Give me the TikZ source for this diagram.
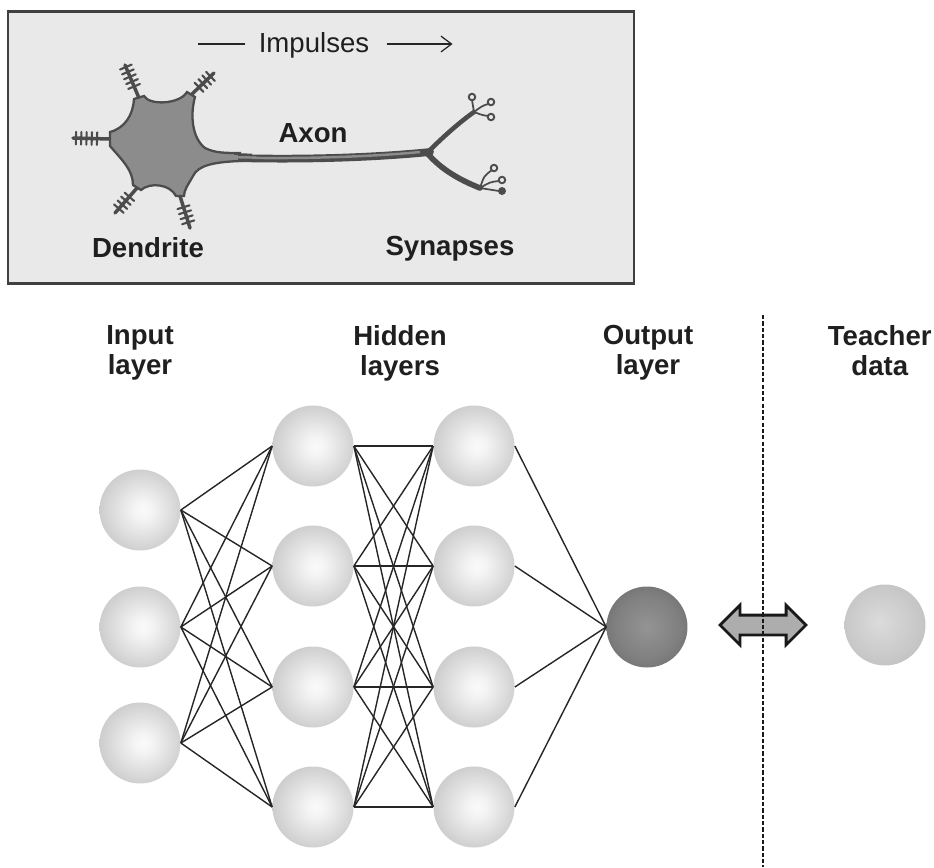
\documentclass[tikz,border=0pt]{standalone}
\usepackage{fontspec}
\setmainfont{Liberation Sans}
\usetikzlibrary{arrows.meta,calc,shapes.arrows,decorations.pathreplacing}

\pgfdeclareradialshading{cellball}{\pgfpoint{2bp}{0bp}}{color(0bp)=(gray!4); color(6bp)=(gray!9); color(28bp)=(gray!42); color(40bp)=(gray!63); color(50bp)=(gray!67)}
\pgfdeclareradialshading{outball}{\pgfpoint{0bp}{0bp}}{color(0bp)=(black!42); color(20bp)=(black!50); color(40bp)=(black!63); color(50bp)=(black!70)}
\pgfdeclareradialshading{teachball}{\pgfpoint{-4bp}{2bp}}{color(0bp)=(gray!28); color(25bp)=(gray!45); color(50bp)=(gray!72)}

\tikzset{
  cell/.style={circle,inner sep=0,minimum size=1.62cm,shading=cellball},
  outcell/.style={cell,shading=outball},
  teachcell/.style={cell,shading=teachball},
  link/.style={line width=0.8pt,black!85},
  lbl/.style={font=\bfseries\fontsize{15.7}{17}\selectfont,text=black!88,align=center},
  layerlbl/.style={lbl,anchor=north},
  nerve/.style={black!70,line cap=round},
  dendrite/.style={nerve,line width=2pt},
  spikes/.style={nerve,line width=1.2pt,decorate,decoration={ticks,segment length=3pt,amplitude=3.6pt}},
  bulb/.style={black!70,line width=1.1pt,fill=gray!17}
}

\begin{document}
\begin{tikzpicture}[x=0.02cm,y=-0.02cm]
    \pgfmathsetmacro{\inx}{140}
    \pgfmathsetmacro{\hax}{313}
    \pgfmathsetmacro{\hbx}{474}
    \pgfmathsetmacro{\lbly}{319}
    \useasboundingbox (0,0) rectangle (934,867);

    % neuron panel
    \draw[line width=1.7pt,draw=black!75,fill=gray!17] (8,11) rectangle (634,283);
    \node[font=\fontsize{15.7}{17}\selectfont,text=black!88,inner sep=0] (imp) at (314,45) {Impulses};
    \draw[line width=0.7pt,black!85] ($(imp.west)+(-13,-1)$) -- ++(-47,0);
    \draw[line width=0.7pt,black!85,-{Straight Barb[length=6pt,width=9pt]}] ($(imp.east)+(17,-1)$) -- ++(66,0);

    % axon and terminals
    \draw[nerve,line width=4.4pt] (205,157) .. controls (300,161) and (380,157) .. (430,152);
    \draw[black!45,line width=1.4pt] (215,157) .. controls (300,160) and (380,156) .. (420,152);
    \draw[nerve,line width=2.6pt] (428,152) .. controls (445,135) and (460,122) .. (474,112);
    \draw[nerve,line width=3.2pt] (428,154) .. controls (442,170) and (460,180) .. (480,188);
    \draw[nerve,line width=1pt] (474,112) -- (472,100)
        (474,112) .. controls (482,106) .. (488,104)
        (474,112) .. controls (482,115) .. (488,116)
        (480,188) .. controls (484,176) .. (492,170)
        (480,188) .. controls (490,182) .. (499,181)
        (480,188) -- (499,191);
    \foreach \bx/\by in {472/97,491/102,491/117,494/168,502/180}
        \draw[bulb] (\bx,\by) circle (0.065cm);
    \fill[black!70] (502,191) circle (0.08cm);

    % cell body
    \foreach \ax/\ay/\tx/\ty in {110/139/73/138,139/98/125/65,191/95/214/73,137/188/115/213,180/196/190/228}{
        \draw[dendrite] (\ax,\ay) -- (\tx,\ty);
        \draw[spikes] ($(\ax,\ay)!0.35!(\tx,\ty)$) -- ($(\ax,\ay)!0.95!(\tx,\ty)$);
    }
    \draw[black!70,line width=1.3pt,fill=black!45] (110,132)
        .. controls (125,128) and (133,115) .. (134,99) -- (144,96)
        .. controls (150,106) and (180,104) .. (187,92) -- (195,97)
        .. controls (190,115) and (192,138) .. (205,148)
        .. controls (215,153) and (225,153) .. (240,153)
        -- (240,161)
        .. controls (215,162) and (198,165) .. (193,176)
        .. controls (188,185) and (184,190) .. (184,196) -- (176,196)
        .. controls (170,184) and (150,182) .. (141,190) -- (133,185)
        .. controls (133,170) and (122,160) .. (110,146) -- cycle;
    % seam between body and axon
    \draw[black!70,line width=4.4pt] (234,157) -- (252,157.5);
    \draw[black!45,line width=1.4pt] (226,157) -- (256,157.6);
    \fill[black!45] (224,154.5) rectangle (238,159.5);

    \node[lbl] (axon) at (313,133) {Axon};
    \node[lbl] (dend) at (148,248) {Dendrite};
    \node[lbl] (syn) at (450,249) {Synapses};

    % network
    \foreach \i/\y in {1/510,2/627,3/743}
        \node[cell] (in\i) at (\inx,\y) {};
    \foreach \j/\y in {1/446,2/566,3/687,4/807}{
        \node[cell] (ha\j) at (\hax,\y) {};
        \node[cell] (hb\j) at (\hbx,\y) {};
    }
    \node[outcell] (out) at (647,627) {};
    \node[teachcell] (teach) at (885,625) {};

    \foreach \i in {1,2,3}
        \foreach \j in {1,...,4}
            \draw[link] (in\i.east) -- (ha\j.west);
    \foreach \i in {1,...,4}
        \foreach \j in {1,...,4}
            \draw[link] (ha\i.east) -- (hb\j.west);
    \foreach \i in {1,...,4}
        \draw[link] (hb\i.east) -- (out.west);

    \node[layerlbl] (inlbl) at (\inx,\lbly) {Input\\layer};
    \node[layerlbl] (hidlbl) at (400,\lbly) {Hidden\\layers};
    \node[layerlbl] (outlbl) at (648,\lbly) {Output\\layer};
    \node[layerlbl,anchor=north east,inner xsep=0] (teachlbl) at (932,\lbly) {Teacher\\data};

    % comparison with teacher data
    \node[double arrow,draw=black!90,line width=1.6pt,fill=black!32,inner xsep=0,inner ysep=0.17cm,
          minimum height=1.72cm,double arrow head extend=0.2cm] (cmp) at (763,625) {};
    \coordinate (dtop) at (763,315);
    \coordinate (dbot) at (763,867);
    \draw[black!90,line width=0.8pt,dash pattern=on 2.4pt off 1.2pt] (dtop) -- (dbot);
\end{tikzpicture}
\end{document}
